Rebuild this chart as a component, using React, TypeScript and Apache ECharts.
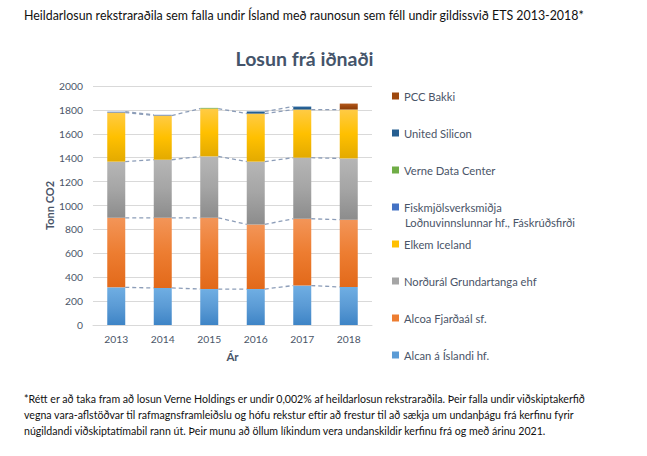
import React, { useEffect, useRef } from "react";
import * as echarts from "echarts";

const years = ["2013", "2014", "2015", "2016", "2017", "2018"];
const alcan = [315, 310, 301, 301, 330, 318];
const alcoa = [582, 587, 596, 541, 559, 563];
const nordural = [470, 486, 514, 525, 511, 513];
const elkem = [411, 370, 400, 402, 403, 409];
const fisk = [7, 6, 0, 0, 0, 0];
const verne = [0, 0, 6, 0, 0, 0];
const unitedSilicon = [0, 0, 0, 18, 25, 0];
const pcc = [0, 0, 0, 0, 0, 50];
const yTicks = { min: 0, max: 2000, interval: 200 };

const FISK_NAME = "Fiskmjölsverksmiðja Loðnuvinnslunnar hf., Fáskrúðsfirði";
const HEADER = "Heildarlosun rekstraraðila sem falla undir Ísland með raunosun sem féll undir gildissvið ETS 2013-2018*";
const TITLE = "Losun frá iðnaði";
const FOOT = [
  "*Rétt er að taka fram að losun Verne Holdings er undir 0,002% af heildarlosun rekstraraðila. Þeir falla undir viðskiptakerfið",
  "vegna vara-aflstöðvar til rafmagnsframleiðslu og hófu rekstur eftir að frestur til að sækja um undanþágu frá kerfinu fyrir",
  "núgildandi viðskiptatímabil rann út. Þeir munu að öllum líkindum vera undanskildir kerfinu frá og með árinu 2021.",
];

const FONT = "Lato, 'Liberation Sans', sans-serif";
const TXT = "#4A5568";

const seriesDefs = [
  { name: "Alcan á Íslandi hf.", data: alcan, color: "#5B9BD5", top: "#6FAEE3", bottom: "#3E84C6" },
  { name: "Alcoa Fjarðaál sf.", data: alcoa, color: "#ED7D31", top: "#F39558", bottom: "#E2691A" },
  { name: "Norðurál Grundartanga ehf", data: nordural, color: "#A5A5A5", top: "#B6B6B6", bottom: "#8C8C8C" },
  { name: "Elkem Iceland", data: elkem, color: "#FFC000", top: "#FFCB45", bottom: "#E3AA00" },
  { name: FISK_NAME, data: fisk, color: "#4472C4", top: "#4F7FD0", bottom: "#3A66B5" },
  { name: "Verne Data Center", data: verne, color: "#70AD47", top: "#7DBB52", bottom: "#62A03B" },
  { name: "United Silicon", data: unitedSilicon, color: "#255E91", top: "#2E6BA3", bottom: "#1E5282" },
  { name: "PCC Bakki", data: pcc, color: "#9E480E", top: "#B55A1C", bottom: "#8A3C08" },
];

const legendRows = [
  { name: "PCC Bakki", y: 96 },
  { name: "United Silicon", y: 133 },
  { name: "Verne Data Center", y: 170 },
  { name: FISK_NAME, y: 207 },
  { name: "Elkem Iceland", y: 244 },
  { name: "Norðurál Grundartanga ehf", y: 281 },
  { name: "Alcoa Fjarðaál sf.", y: 318 },
  { name: "Alcan á Íslandi hf.", y: 355 },
];

const BAR_W = 18;

export default function App() {
  const ref = useRef<HTMLDivElement>(null);
  useEffect(() => {
    document.body.style.margin = "0";
    if (!ref.current) return;
    const chart = echarts.init(ref.current, undefined, { renderer: "svg" });

    const cum: number[][] = [];
    seriesDefs.forEach((s, si) => {
      cum.push(s.data.map((v, i) => (si > 0 ? cum[si - 1][i] : 0) + v));
    });

    const barSeries = seriesDefs.map((s) => ({
      name: s.name,
      type: "bar",
      stack: "total",
      barWidth: BAR_W,
      data: s.data,
      itemStyle: {
        color: new echarts.graphic.LinearGradient(0, 0, 0, 1, [
          { offset: 0, color: s.top },
          { offset: 0.5, color: s.color },
          { offset: 1, color: s.bottom },
        ]),
      },
      emphasis: { disabled: true },
    }));

    const lineSeries = {
      type: "custom",
      name: "seriesLines",
      z: 5,
      silent: true,
      data: years.slice(0, -1).map((_, i) => [i, 0]),
      encode: { x: 0, y: 1 },
      renderItem: (params: any, api: any) => {
        const i = params.dataIndex;
        const children: any[] = [];
        seriesDefs.forEach((s, si) => {
          if (s.data[i] > 0 && s.data[i + 1] > 0) {
            const p1 = api.coord([i, cum[si][i]]);
            const p2 = api.coord([i + 1, cum[si][i + 1]]);
            children.push({
              type: "line",
              shape: { x1: p1[0] + BAR_W / 2, y1: p1[1], x2: p2[0] - BAR_W / 2, y2: p2[1] },
              style: { stroke: "#8C9DB8", lineWidth: 1.3, lineDash: [4, 3] },
            });
          }
        });
        return { type: "group", children };
      },
    };

    const legends = legendRows.map((r) => {
      const def = seriesDefs.find((s) => s.name === r.name)!;
      return {
        show: true,
        orient: "vertical",
        left: 392,
        top: r.y - 7,
        padding: 0,
        itemWidth: 7,
        itemHeight: 7,
        selectedMode: false,
        icon: "rect",
        data: [{ name: r.name, itemStyle: { color: def.color } }],
        formatter: (n: string) => (n === FISK_NAME ? "Fiskmjölsverksmiðja" : n),
        textStyle: { fontFamily: FONT, fontSize: 11.2, color: TXT, lineHeight: 14 },
      };
    });

    chart.setOption({
      animation: false,
      grid: { left: 93, right: 275, top: 86, bottom: 131, containLabel: false },
      legend: legends,
      xAxis: {
        type: "category",
        data: years,
        name: "Ár",
        nameLocation: "middle",
        nameGap: 25,
        nameTextStyle: { fontFamily: FONT, fontSize: 11.5, fontWeight: "bold", color: TXT },
        axisLine: { show: true, lineStyle: { color: "#D9D9D9" } },
        axisTick: { show: false },
        axisLabel: { fontFamily: FONT, fontSize: 10.3, color: TXT, margin: 9 },
      },
      yAxis: {
        type: "value",
        min: yTicks.min,
        max: yTicks.max,
        interval: yTicks.interval,
        name: "Tonn CO2",
        nameLocation: "middle",
        nameGap: 38,
        nameTextStyle: { fontFamily: FONT, fontSize: 11, fontWeight: "bold", color: TXT },
        axisLine: { show: false },
        axisTick: { show: false },
        axisLabel: { fontFamily: FONT, fontSize: 10.3, color: TXT, margin: 10, formatter: (v: number) => String(v) },
        splitLine: { lineStyle: { color: "#D9D9D9" } },
      },
      graphic: [
        {
          type: "text",
          x: 24,
          y: 15,
          style: { text: HEADER, fill: "#111", font: `12.4px ${FONT}`, textVerticalAlign: "middle" },
        },
        {
          type: "text",
          x: 304.5,
          y: 58,
          style: { text: TITLE, fill: "#44546A", font: `bold 19.5px ${FONT}`, textAlign: "center", textVerticalAlign: "middle" },
        },
        {
          type: "text",
          x: 405,
          y: 222,
          style: { text: "Loðnuvinnslunnar hf., Fáskrúðsfirði", fill: TXT, font: `11.2px ${FONT}`, textVerticalAlign: "middle" },
        },
        ...FOOT.map((t, k) => ({
          type: "text",
          x: 24,
          y: 399 + k * 16,
          style: { text: t, fill: "#111", font: `10.6px ${FONT}`, textVerticalAlign: "middle" },
        })),
      ],
      series: [...barSeries, lineSeries],
    });
    return () => chart.dispose();
  }, []);
  return <div ref={ref} style={{ width: 647, height: 456 }} />;
}
